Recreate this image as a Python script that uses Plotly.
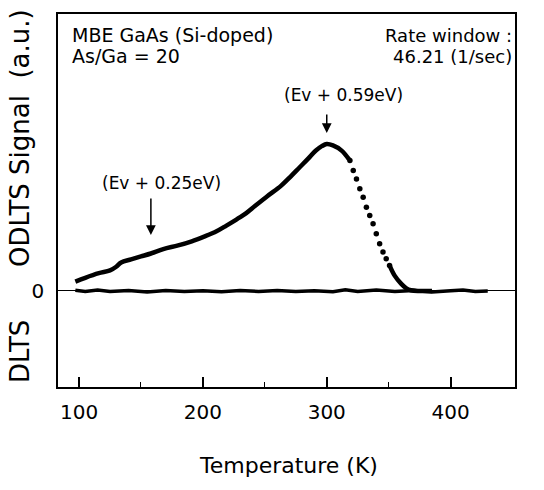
import plotly.graph_objects as go

# ---- data ----
rise_T = [97, 105, 116, 125, 130, 134, 142, 150, 158, 168, 180, 191, 201, 211, 219, 227, 235, 242, 252, 263, 271, 278, 285, 291, 296, 300, 305, 312, 318]
rise_S = [0.064, 0.09, 0.121, 0.14, 0.165, 0.194, 0.215, 0.235, 0.255, 0.285, 0.31, 0.338, 0.37, 0.406, 0.445, 0.486, 0.53, 0.578, 0.645, 0.715, 0.78, 0.84, 0.9, 0.954, 0.985, 1.0, 0.99, 0.955, 0.895]

fall_T = [318.7, 321.4, 324.0, 326.7, 329.4, 332.0, 334.7, 337.4, 340.0, 342.7, 345.4, 348.0, 350.7]
fall_S = [0.887, 0.819, 0.762, 0.695, 0.638, 0.570, 0.514, 0.457, 0.389, 0.321, 0.265, 0.219, 0.174]

tail_T = [350.7, 354.7, 360, 364, 368, 375, 385]
tail_S = [0.174, 0.106, 0.05, 0.02, 0.005, 0.0, 0.0]

base_T = [97, 105, 115, 125, 140, 155, 170, 185, 200, 215, 230, 245, 260, 275, 290, 305, 315, 325, 340, 355, 370, 385, 400, 410, 420, 430]
base_S = [0.005, -0.004, 0.006, -0.003, 0.004, -0.006, 0.003, -0.004, 0.002, -0.005, 0.004, -0.003, 0.003, -0.004, 0.002, -0.005, 0.008, -0.003, 0.006, -0.004, 0.004, -0.006, 0.002, 0.007, -0.003, 0.0]

x_ticks = [100, 200, 300, 400]
x_minor = [150, 250, 350]

FONT = "DejaVu Sans"

fig = go.Figure()
fig.add_trace(go.Scatter(x=base_T, y=base_S, mode="lines",
                         line=dict(color="black", width=3.5), hoverinfo="skip"))
fig.add_trace(go.Scatter(x=rise_T, y=rise_S, mode="lines",
                         line=dict(color="black", width=4.5, shape="spline"), hoverinfo="skip"))
fig.add_trace(go.Scatter(x=fall_T, y=fall_S, mode="markers",
                         marker=dict(color="black", size=5.5), hoverinfo="skip"))
fig.add_trace(go.Scatter(x=tail_T, y=tail_S, mode="lines",
                         line=dict(color="black", width=4.5, shape="spline"), hoverinfo="skip"))

L, R, T, B = 58, 515, 14, 387
W, H = 544, 490
pw, ph = R - L, B - T

def px(x):
    return (x - L) / pw

def py(y):
    return (B - y) / ph

ann = []
def text(s, x, y, size, xanchor="center", angle=0):
    ann.append(dict(text=s, x=px(x), y=py(y), xref="paper", yref="paper",
                    showarrow=False, xanchor=xanchor, yanchor="middle",
                    textangle=angle, font=dict(family=FONT, size=size, color="black")))

text("MBE GaAs (Si-doped)", 70, 35, 19, "left")
text("As/Ga = 20", 70, 56, 19, "left")
text("Rate window :", 514, 35, 18, "right")
text("46.21 (1/sec)", 514, 57, 18, "right")
text("(Ev + 0.59eV)", 343, 95, 17)
text("(Ev + 0.25eV)", 161, 183, 17)
text("Temperature (K)", 288, 466, 22)
text("ODLTS Signal  (a.u.)", 20, 138, 26, angle=-90)
text("DLTS", 20, 352, 26, angle=-90)

# arrows
ann.append(dict(x=300, y=1.075, xref="x", yref="y", ax=0, ay=-20, text="",
                showarrow=True, arrowhead=2, arrowsize=1.3, arrowwidth=1.5, arrowcolor="black"))
ann.append(dict(x=158, y=0.381, xref="x", yref="y", ax=0, ay=-38, text="",
                showarrow=True, arrowhead=2, arrowsize=1.3, arrowwidth=1.5, arrowcolor="black"))

fig.update_layout(
    width=W, height=H,
    margin=dict(l=L, r=W - R, t=T, b=H - B, pad=0),
    paper_bgcolor="white", plot_bgcolor="white",
    showlegend=False,
    font=dict(family=FONT, color="black"),
    annotations=ann,
)
fig.update_xaxes(range=[83, 452], tickvals=x_ticks, ticks="inside", ticklen=10, tickwidth=1.5,
                 tickcolor="black", showline=True, linecolor="black", linewidth=1.6, mirror=True,
                 showgrid=False, zeroline=False, tickfont=dict(size=20, family=FONT),
                 ticklabelstandoff=6,
                 minor=dict(tickvals=x_minor, ticks="inside", ticklen=5, tickwidth=1.2, tickcolor="black"))
fig.update_yaxes(range=[-0.653, 1.884], tickvals=[0], ticktext=["0"], ticks="", showgrid=False,
                 showline=True, linecolor="black", linewidth=1.6, mirror=True,
                 zeroline=True, zerolinecolor="black", zerolinewidth=1.2,
                 tickfont=dict(size=20, family=FONT), ticklabelstandoff=8)

fig.write_html("out.html")
